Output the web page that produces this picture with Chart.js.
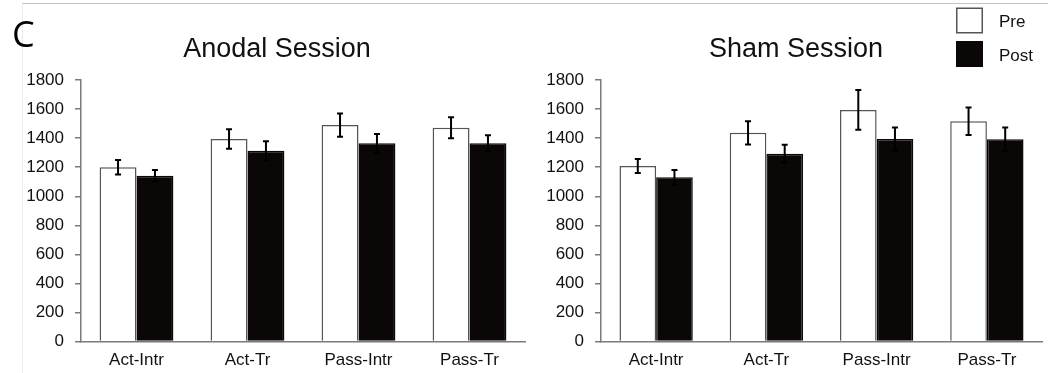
<!DOCTYPE html>
<html>
<head>
<meta charset="utf-8">
<script src="https://cdn.jsdelivr.net/npm/chart.js@4.4.1/dist/chart.umd.min.js"></script>
<style>
	body { margin: 0; background: #fff; }
	#wrap { position: relative; width: 1048px; height: 373px; overflow: hidden; }
	#frame { position: absolute; left: 22px; top: 3px; right: -2px; bottom: -2px; border-top: 1px solid #c4c4c4; border-left: 1px solid #ececec; }
	#chart_anodal { position: absolute; left: 0; top: 0; }
	#chart_sham { position: absolute; left: 540px; top: 0; }
</style>
</head>
<body>
<div id="wrap">
	<div id="frame"></div>
	<canvas id="chart_anodal" width="540" height="373"></canvas>
	<canvas id="chart_sham" width="508" height="373"></canvas>
</div>
<script>
var categories = ['Act-Intr', 'Act-Tr', 'Pass-Intr', 'Pass-Tr'];
var yTicks = [0, 200, 400, 600, 800, 1000, 1200, 1400, 1600, 1800];

// anodal session
var anodalPre = [1200, 1394, 1490, 1472];
var anodalPreErr = [50, 67, 80, 72];
var anodalPost = [1141, 1314, 1364, 1364];
var anodalPostErr = [40, 64, 64, 56];

// sham session
var shamPre = [1208, 1437, 1594, 1516];
var shamPreErr = [48, 80, 137, 95];
var shamPost = [1130, 1293, 1394, 1392];
var shamPostErr = [50, 62, 80, 82];

var FONT = '"Liberation Sans", Arial, sans-serif';
var AXIS_GREY = '#7a7a7a';

// whiskers on top of the bars
var errorBars = {
	id: 'errorBars',
	afterDatasetsDraw: function (chart) {
		var ctx = chart.ctx;
		var y = chart.scales.y;
		chart.data.datasets.forEach(function (ds, i) {
			var meta = chart.getDatasetMeta(i);
			meta.data.forEach(function (bar, j) {
				var top = y.getPixelForValue(ds.data[j] + ds.errors[j]);
				var bot = y.getPixelForValue(ds.data[j] - ds.errors[j]);
				ctx.save();
				ctx.strokeStyle = '#000';
				ctx.lineWidth = 2;
				ctx.beginPath();
				ctx.moveTo(bar.x, top); ctx.lineTo(bar.x, bot);
				ctx.moveTo(bar.x - 3, top); ctx.lineTo(bar.x + 3, top);
				ctx.moveTo(bar.x - 3, bot); ctx.lineTo(bar.x + 3, bot);
				ctx.stroke();
				ctx.restore();
			});
		});
	}
};

// session title, panel letter and the small box legend
var panelText = {
	id: 'panelText',
	afterDraw: function (chart, args, opts) {
		var ctx = chart.ctx;
		var area = chart.chartArea;
		ctx.save();
		ctx.fillStyle = '#111';
		ctx.textBaseline = 'alphabetic';
		ctx.textAlign = 'center';
		ctx.font = '27px ' + FONT;
		ctx.fillText(opts.title, (area.left + area.right) / 2 + opts.titleShift, 57);

		if (opts.letter) {
			ctx.textAlign = 'left';
			ctx.font = '36px "Open Sans", sans-serif';
			ctx.fillStyle = '#000';
			ctx.fillText(opts.letter, 12, 47);
		}

		if (opts.legend) {
			ctx.textAlign = 'left';
			ctx.font = '17px ' + FONT;
			chart.data.datasets.forEach(function (ds, i) {
				var bx = opts.legend.x, by = opts.legend.y + i * 33.5;
				ctx.fillStyle = ds.backgroundColor;
				ctx.fillRect(bx, by, 27, 26);
				ctx.strokeStyle = ds.borderColor;
				ctx.lineWidth = 1.5;
				ctx.strokeRect(bx + 0.75, by + 0.75, 25.5, 24.5);
				ctx.fillStyle = '#111';
				ctx.fillText(ds.label, bx + 43, by + 19.5);
			});
		}
		ctx.restore();
	}
};

function makeChart(id, pre, preErr, post, postErr, axisWidth, padRight, textOpts) {
	return new Chart(id, {
		type: 'bar',
		data: {
			labels: categories,
			datasets: [
				{
					label: 'Pre',
					data: pre,
					errors: preErr,
					backgroundColor: '#ffffff',
					borderColor: '#555555',
					borderWidth: 1.5
				},
				{
					label: 'Post',
					data: post,
					errors: postErr,
					backgroundColor: '#0b0706',
					borderColor: '#0b0706',
					borderWidth: 1.5
				}
			]
		},
		options: {
			responsive: false,
			animation: false,
			categoryPercentage: 0.665,
			barPercentage: 1.0,
			layout: { padding: { top: 80, left: 0, right: padRight, bottom: 0 } },
			scales: {
				x: {
					grid: { display: false },
					border: { color: AXIS_GREY, width: 1.5 },
					ticks: { color: '#111', padding: 1, font: { family: FONT, size: 17 } },
					afterFit: function (scale) { scale.height = 31.4; }
				},
				y: {
					min: 0,
					max: 1800,
					afterBuildTicks: function (scale) {
						scale.ticks = yTicks.map(function (v) { return { value: v }; });
					},
					grid: { drawOnChartArea: false, tickLength: 6, color: AXIS_GREY, lineWidth: 1.5 },
					border: { color: AXIS_GREY, width: 1.5 },
					ticks: {
						color: '#111',
						padding: 11,
						font: { family: FONT, size: 17 },
						callback: function (value) { return String(value); }
					},
					afterFit: function (scale) { scale.width = axisWidth; }
				}
			},
			plugins: {
				legend: { display: false },
				tooltip: { enabled: false },
				panelText: textOpts
			}
		},
		plugins: [errorBars, panelText]
	});
}

makeChart('chart_anodal', anodalPre, anodalPreErr, anodalPost, anodalPostErr, 81, 15,
	{ title: 'Anodal Session', titleShift: -26, letter: 'C' });

makeChart('chart_sham', shamPre, shamPreErr, shamPost, shamPostErr, 61, 6,
	{ title: 'Sham Session', titleShift: -25.5, legend: { x: 416, y: 7.5 } });
</script>
</body>
</html>
